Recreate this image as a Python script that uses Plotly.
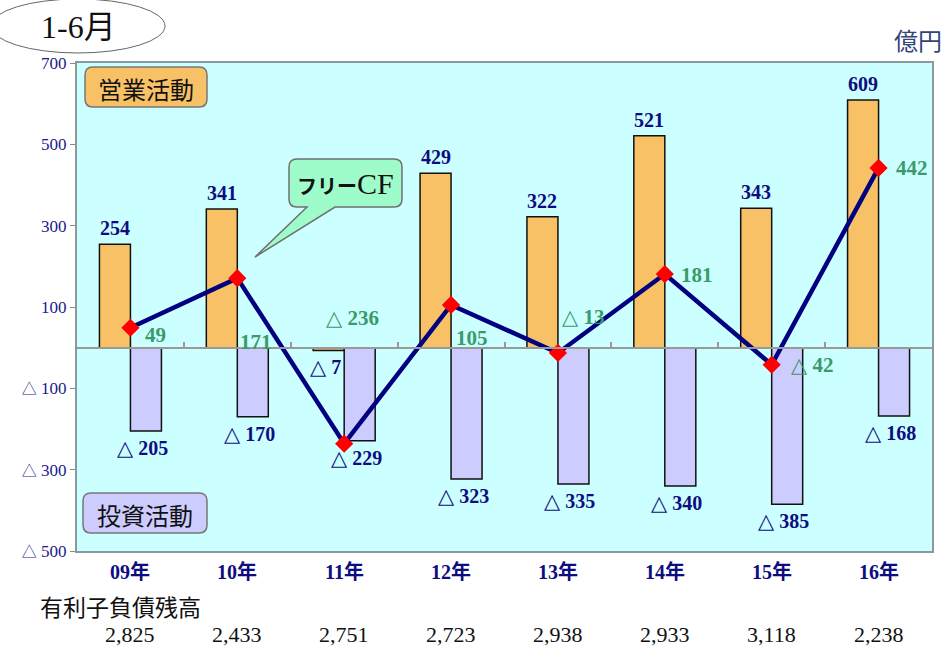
import plotly.graph_objects as go

categories = ["09年", "10年", "11年", "12年", "13年", "14年", "15年", "16年"]
operating = [254, 341, -7, 429, 322, 521, 343, 609]
investing = [-205, -170, -229, -323, -335, -340, -385, -168]
free_cf = [49, 171, -236, 105, -13, 181, -42, 442]
debt = ["2,825", "2,433", "2,751", "2,723", "2,938", "2,933", "3,118", "2,238"]
ytick_vals = [700, 500, 300, 100, -100, -300, -500]
ytick_text = ["700", "500", "300", "100", "△ 100", "△ 300", "△ 500"]

# label offsets for free CF values (pixels: dx right, dy up)
fcf_dx = [25, 19, 8, 21, 25, 32, 40, 33]
fcf_dy = [-7, -64, 126, -33, 36, -1, 0, 0]

W, H = 947, 649
L, R, T, B = 77, 932, 63, 551
SERIF = "Liberation Serif, Times New Roman, Noto Sans CJK JP"
SANS = "Noto Sans CJK JP, Noto Sans, sans-serif"
NAVY = "#0d0d80"
GREEN = "#3a9a6a"
TRI_B = "<span style='font-family:DejaVu Sans;font-size:21px;font-weight:bold'>△</span>"
TRI = "<span style='font-family:Noto Sans CJK JP;font-size:15px'>△</span>"


def px(x):
    return (x - L) / (R - L)


def py(y):
    return (B - y) / (B - T)


def fmt(v):
    return (TRI_B + " %d" % abs(v)) if v < 0 else str(v)


def tick_fmt(t):
    return t.replace("△", TRI)


def rrect(x0, y0, x1, y1, r):
    pts = [
        f"M {px(x0 + r)} {py(y0)}",
        f"L {px(x1 - r)} {py(y0)}",
        f"Q {px(x1)} {py(y0)} {px(x1)} {py(y0 + r)}",
        f"L {px(x1)} {py(y1 - r)}",
        f"Q {px(x1)} {py(y1)} {px(x1 - r)} {py(y1)}",
        f"L {px(x0 + r)} {py(y1)}",
        f"Q {px(x0)} {py(y1)} {px(x0)} {py(y1 - r)}",
        f"L {px(x0)} {py(y0 + r)}",
        f"Q {px(x0)} {py(y0)} {px(x0 + r)} {py(y0)}",
        "Z",
    ]
    return " ".join(pts)


fig = go.Figure()
BW = 0.29
fig.add_trace(go.Bar(x=categories, y=operating, width=BW, offset=-BW,
                     marker=dict(color="#F8C165", line=dict(color="#111111", width=1.5)),
                     showlegend=False, hoverinfo="skip"))
fig.add_trace(go.Bar(x=categories, y=investing, width=BW, offset=0,
                     marker=dict(color="#CCCCFF", line=dict(color="#111111", width=1.5)),
                     showlegend=False, hoverinfo="skip"))
fig.add_trace(go.Scatter(x=categories, y=free_cf, mode="lines+markers",
                         line=dict(color="#000080", width=4.5),
                         marker=dict(symbol="diamond", size=14, color="#ff0000"),
                         showlegend=False, hoverinfo="skip"))
# dummy trace for zero-line axis with boundary ticks
fig.add_trace(go.Scatter(x=categories, y=[None] * len(categories), xaxis="x2",
                         showlegend=False, hoverinfo="skip"))

ann = []
for i, c in enumerate(categories):
    v = operating[i]
    if v >= 0:
        ann.append(dict(x=c, y=v, xref="x", yref="y", text=fmt(v), showarrow=False,
                        xshift=-15.5, yshift=3, yanchor="bottom",
                        font=dict(family=SERIF, size=20, color=NAVY, weight="bold")))
    else:
        ann.append(dict(x=c, y=v, xref="x", yref="y", text=fmt(v), showarrow=False,
                        xshift=-19, yshift=-16, yanchor="middle",
                        font=dict(family=SERIF, size=20, color=NAVY, weight="bold")))
    iv = investing[i]
    ann.append(dict(x=c, y=iv, xref="x", yref="y", text=fmt(iv), showarrow=False,
                    xshift=12, yshift=-17, yanchor="middle",
                    font=dict(family=SERIF, size=20, color=NAVY, weight="bold")))
    fv = free_cf[i]
    ann.append(dict(x=c, y=fv, xref="x", yref="y", text=fmt(fv), showarrow=False,
                    xshift=fcf_dx[i], yshift=fcf_dy[i], yanchor="middle",
                    font=dict(family=SERIF, size=21, color=GREEN, weight="bold")))
    # category label
    ann.append(dict(x=c, y=py(572), xref="x", yref="paper", text=c, showarrow=False,
                    yanchor="middle",
                    font=dict(family=SERIF, size=20, color=NAVY, weight="bold")))
    # debt balance
    ann.append(dict(x=c, y=py(634), xref="x", yref="paper", text=debt[i], showarrow=False,
                    yanchor="middle",
                    font=dict(family=SERIF, size=22, color="#111111")))

ann += [
    dict(x=px(120), y=py(606), xref="paper", yref="paper", text="有利子負債残高",
         showarrow=False, xanchor="center", yanchor="middle",
         font=dict(family=SANS, size=23, color="#111111")),
    dict(x=px(78), y=py(27), xref="paper", yref="paper", text="1-6月",
         showarrow=False, xanchor="center", yanchor="middle",
         font=dict(family=SERIF, size=32, color="#111111")),
    dict(x=px(918), y=py(40), xref="paper", yref="paper", text="億円",
         showarrow=False, xanchor="center", yanchor="middle",
         font=dict(family=SANS, size=24, color="#334477")),
    dict(x=px(146), y=py(88), xref="paper", yref="paper", text="営業活動",
         showarrow=False, xanchor="center", yanchor="middle",
         font=dict(family=SANS, size=24, color="#111111")),
    dict(x=px(145), y=py(514), xref="paper", yref="paper", text="投資活動",
         showarrow=False, xanchor="center", yanchor="middle",
         font=dict(family=SANS, size=24, color="#111111")),
    dict(x=px(345), y=py(183), xref="paper", yref="paper",
         text="<span style='font-family:Noto Sans CJK JP;font-size:20px;font-weight:bold'>フリー</span>CF",
         showarrow=False, xanchor="center", yanchor="middle",
         font=dict(family=SERIF, size=30, color="#111111")),
]

shapes = [
    dict(type="circle", xref="paper", yref="paper", x0=px(-9), x1=px(165),
         y0=py(53), y1=py(-1), line=dict(color="#666666", width=1), fillcolor="white",
         layer="below"),
    dict(type="path", xref="paper", yref="paper", path=rrect(85, 67, 207, 107, 8),
         fillcolor="#F8C165", line=dict(color="#777777", width=1.5)),
    dict(type="path", xref="paper", yref="paper", path=rrect(83, 493, 207, 533, 8),
         fillcolor="#CCCCFF", line=dict(color="#777777", width=1.5)),
    dict(type="path", xref="paper", yref="paper",
         path=(f"M {px(297)} {py(159)} L {px(394)} {py(159)} "
               f"Q {px(402)} {py(159)} {px(402)} {py(167)} L {px(402)} {py(199)} "
               f"Q {px(402)} {py(207)} {px(394)} {py(207)} L {px(335)} {py(207)} "
               f"L {px(255)} {py(257)} L {px(307)} {py(207)} L {px(297)} {py(207)} "
               f"Q {px(289)} {py(207)} {px(289)} {py(199)} L {px(289)} {py(167)} "
               f"Q {px(289)} {py(159)} {px(297)} {py(159)} Z"),
         fillcolor="#9EFCCB", line=dict(color="#707070", width=1.5)),
]

fig.update_layout(
    width=W, height=H,
    margin=dict(l=L, r=W - R, t=T, b=H - B, pad=0),
    paper_bgcolor="white",
    plot_bgcolor="#CCFFFF",
    barmode="overlay",
    showlegend=False,
    annotations=ann,
    shapes=shapes,
    xaxis=dict(type="category", range=[-0.5, 7.5], showticklabels=False, ticks="",
               showgrid=False, showline=True, linecolor="#8a9a9a", linewidth=2,
               mirror=True, zeroline=False, fixedrange=True),
    xaxis2=dict(type="category", overlaying="x", matches="x", anchor="free",
                position=500 / 1200, showline=True, linecolor="#999999", linewidth=2,
                ticks="inside", tickson="boundaries", ticklen=5, tickcolor="#999999",
                tickwidth=1.5, showticklabels=False, showgrid=False),
    yaxis=dict(range=[-500, 700], tickvals=ytick_vals,
               ticktext=[tick_fmt(t) for t in ytick_text],
               ticks="outside", ticklen=5, tickcolor="#888888", showgrid=False,
               showline=True, linecolor="#8a9a9a", linewidth=2, mirror=True,
               zeroline=False,
               tickfont=dict(family=SERIF, size=17, color="#1a1a8c")),
    font=dict(family=SERIF),
)

fig.write_html("out.html", config={"displayModeBar": False},
               post_script="document.body.style.margin='0px';document.body.style.overflow='hidden';")
